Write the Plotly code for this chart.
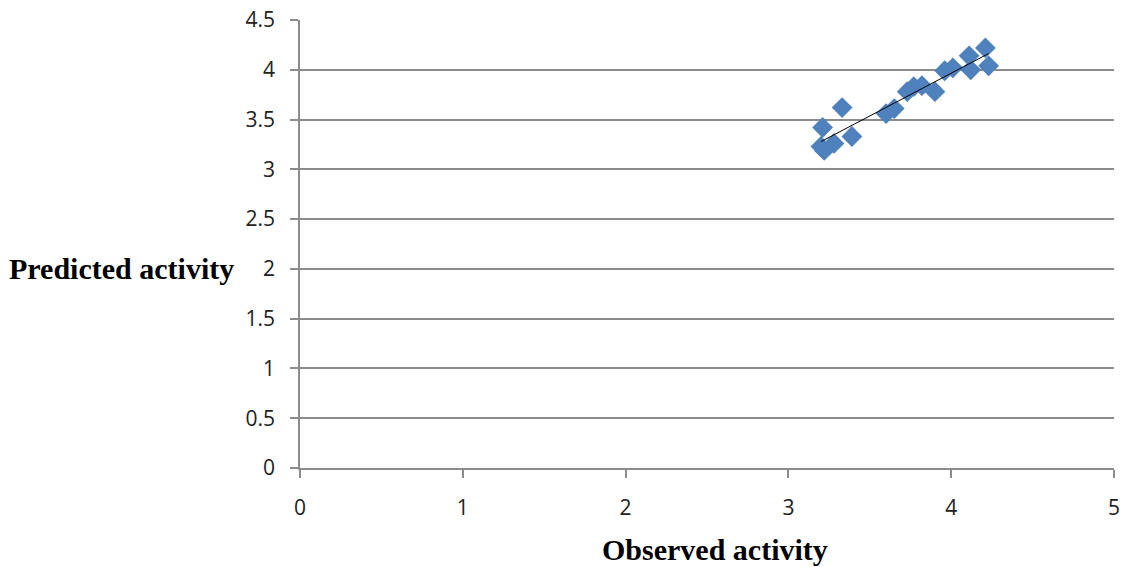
import numpy as np
import plotly.graph_objects as go

observed = [3.21, 3.33, 3.20, 3.22, 3.28, 3.39, 3.60, 3.65, 3.73, 3.77, 3.82, 3.90, 3.96, 4.01, 4.11, 4.12, 4.21, 4.23]
predicted = [3.42, 3.62, 3.23, 3.19, 3.26, 3.33, 3.56, 3.61, 3.78, 3.83, 3.84, 3.78, 3.99, 4.02, 4.14, 4.00, 4.22, 4.04]

x_ticks = [0, 1, 2, 3, 4, 5]
y_ticks = [0, 0.5, 1, 1.5, 2, 2.5, 3, 3.5, 4, 4.5]
y_tick_text = ["0", "0.5", "1", "1.5", "2", "2.5", "3", "3.5", "4", "4.5"]

slope, intercept = np.polyfit(observed, predicted, 1)
fit_x = [min(observed), max(observed)]
fit_y = [slope * v + intercept for v in fit_x]

fig = go.Figure()
fig.add_trace(go.Scatter(
    x=observed, y=predicted, mode="markers",
    marker=dict(symbol="diamond", size=16, color="#4F81BD", line=dict(width=0)),
    showlegend=False, cliponaxis=False,
))
fig.add_trace(go.Scatter(
    x=fit_x, y=fit_y, mode="lines",
    line=dict(color="black", width=1),
    showlegend=False,
))

axis_font = dict(family="Open Sans, Noto Sans, sans-serif", size=21, color="#222")
fig.update_layout(
    width=1122, height=567,
    margin=dict(l=300, r=8, t=20, b=99),
    paper_bgcolor="white", plot_bgcolor="white",
    xaxis=dict(
        range=[0, 5], tickvals=x_ticks, showgrid=False, automargin=False,
        showline=True, linecolor="#8c8c8c", linewidth=1.5,
        ticks="outside", ticklen=8, tickcolor="#8c8c8c", tickwidth=1.5,
        tickfont=axis_font, ticklabelstandoff=12, zeroline=False,
        ticklabeloverflow="allow",
    ),
    yaxis=dict(
        range=[0, 4.5], tickvals=y_ticks, ticktext=y_tick_text, automargin=False,
        showgrid=True, gridcolor="#8c8c8c", gridwidth=1.5,
        showline=True, linecolor="#8c8c8c", linewidth=1.5,
        ticks="outside", ticklen=8, tickcolor="#8c8c8c", tickwidth=1.5,
        tickfont=axis_font, ticklabelstandoff=11, zeroline=False,
        ticklabeloverflow="allow",
    ),
    annotations=[
        dict(text="<b>Predicted activity</b>", xref="paper", yref="paper",
             x=-0.36, y=0.445, xanchor="left", yanchor="middle", showarrow=False,
             font=dict(family="Liberation Serif, Times New Roman, serif", size=30, color="black")),
        dict(text="<b>Observed activity</b>", xref="paper", yref="paper",
             x=0.51, y=-0.183, xanchor="center", yanchor="middle", showarrow=False,
             font=dict(family="Liberation Serif, Times New Roman, serif", size=30, color="black")),
    ],
)

fig.write_html("out.html", config={"displayModeBar": False},
               post_script="document.body.style.margin='0';document.body.style.overflow='hidden';")
